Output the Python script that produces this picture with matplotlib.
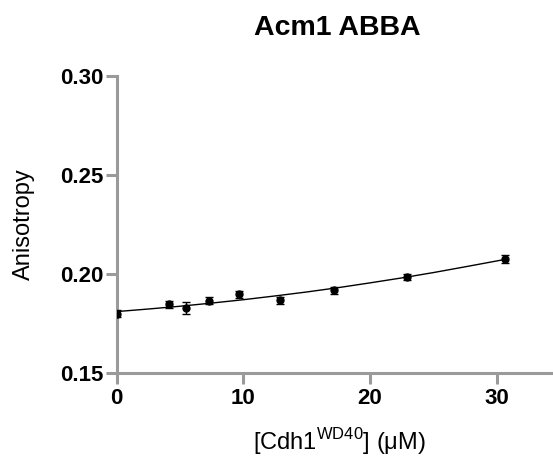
import matplotlib
matplotlib.use("Agg")
import matplotlib.pyplot as plt

plt.rcParams['font.family'] = ['Liberation Sans', 'DejaVu Sans']
plt.rcParams['mathtext.fontset'] = 'custom'
plt.rcParams['mathtext.rm'] = 'Liberation Sans'

# =====================================================
# DADOS
# =====================================================
conc = [0.0, 4.1, 5.5, 7.3, 9.7, 12.9, 17.2, 22.9, 30.7]
aniso = [0.1800, 0.1848, 0.1828, 0.1866, 0.1898, 0.1868, 0.1918, 0.1986, 0.2075]
erro = [0.0018, 0.0018, 0.0030, 0.0020, 0.0018, 0.0018, 0.0018, 0.0016, 0.0020]

# curva ajustada
fit_x = [0.0, 2.5, 5.0, 7.5, 10.0, 12.5, 15.0, 17.5, 20.0, 22.5, 25.0, 27.5, 30.7]
fit_y = [0.1810, 0.1823, 0.1837, 0.1853, 0.1870, 0.1889, 0.1909, 0.1931, 0.1955,
         0.1980, 0.2007, 0.2036, 0.2074]

x_ticks = [0, 10, 20, 30]
y_ticks = [0.15, 0.20, 0.25, 0.30]

cinza = '#9a9a9a'

fig = plt.figure(figsize=(5.53, 4.59), dpi=100)
ax = fig.add_axes([0.2108, 0.1874, 0.7892, 0.6471])

ax.plot(fit_x, fit_y, color='black', lw=1.0, zorder=2)
ax.errorbar(conc, aniso, yerr=erro, fmt='o', color='black', ms=5,
            capsize=3, elinewidth=1.0, capthick=1.0, zorder=3)

ax.set_xlim(0, 34.45)
ax.set_ylim(0.15, 0.30)
ax.set_xticks(x_ticks)
ax.set_yticks(y_ticks)
ax.set_yticklabels(['%.2f' % v for v in y_ticks])

for s in ['top', 'right']:
    ax.spines[s].set_visible(False)
for s in ['left', 'bottom']:
    ax.spines[s].set_color(cinza)
    ax.spines[s].set_linewidth(2.2)

ax.tick_params(axis='both', colors=cinza, width=2.2, length=8, direction='out',
               labelcolor='black', labelsize=16)
ax.tick_params(axis='x', pad=2.5)
ax.tick_params(axis='y', pad=1.5)
for lab in ax.get_xticklabels() + ax.get_yticklabels():
    lab.set_fontweight('bold')

# =====================================================
# TEXTOS
# =====================================================
fig.text(337 / 553, 0.9237, 'Acm1 ABBA', ha='center', va='baseline',
         fontsize=20.5, fontweight='bold')
fig.text(24 / 553, (459 - 224) / 459, 'Anisotropy', rotation=90,
         ha='center', va='center', fontsize=17)
fig.text(339 / 553, 9 / 459, r'[Cdh1$^{\mathrm{WD40}}$] (μM)', ha='center',
         va='baseline', fontsize=17)

fig.savefig('out.png', dpi=100)
